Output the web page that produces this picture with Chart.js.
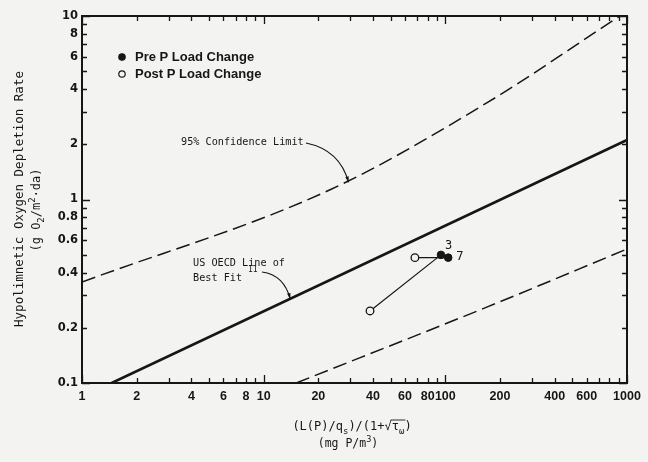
<!DOCTYPE html>
<html><head><meta charset="utf-8">
<script src="https://cdn.jsdelivr.net/npm/chart.js@4.4.1/dist/chart.umd.min.js"></script>
<style>html,body{margin:0;padding:0;background:#f3f3f1;} canvas{display:block;}</style>
</head><body>
<canvas id="c" width="648" height="462"></canvas>
<script>
// ---- tick values / labels ----
const xTickValues = [1,2,4,6,8,10,20,40,60,80,100,200,400,600,1000];
const xTickLabels = ['1','2','4','6','8','10','20','40','60','80','100','200','400','600','1000'];
const xMinorTicks = [3,5,7,9,30,50,70,90,300,500,700,800,900];
const yTickValues = [0.1,0.2,0.4,0.6,0.8,1,2,4,6,8,10];
const yTickLabels = ['0.1','0.2','0.4','0.6','0.8','1','2','4','6','8','10'];
const yMinorTicks = [0.3,0.5,0.7,0.9,3,5,7,9];

// ---- series ----
const fitX = [1.456, 1000];
const fitY = [0.1, 2.11];
const upperX = [1, 23.2, 169, 914];
const upperY = [0.355, 1.13, 3.36, 10];
const lowerX = [15.1, 169, 1000];
const lowerY = [0.1, 0.259, 0.537];
const preLakes = ['3', '7'];
const preX = [94.6, 103.7];
const preY = [0.499, 0.482];
const postX = [38.5, 68.0];
const postY = [0.247, 0.482];

const pts = (xs, ys) => xs.map((x, i) => ({x, y: ys[i]}));
const INK = '#161616';
const BG = '#f3f3f1';
const MONO = '"DejaVu Sans Mono", monospace';
const SANS = '"Liberation Sans", Arial, sans-serif';

const datasets = [
  {label:'Pre P Load Change', data: pts(preX, preY), showLine:false, pointRadius:3.8, pointBackgroundColor:INK, pointBorderColor:INK, pointBorderWidth:1, order:0},
  {label:'Post P Load Change', data: pts(postX, postY), showLine:false, pointRadius:3.8, pointBackgroundColor:BG, pointBorderColor:INK, pointBorderWidth:1.3, order:0},
];
preX.forEach((_, i) => {
  datasets.push({label:'link'+i, data:[{x:postX[i], y:postY[i]}, {x:preX[i], y:preY[i]}], showLine:true, pointRadius:0, borderColor:INK, borderWidth:1.2, order:1});
});
datasets.push({label:'US OECD Line of Best Fit', data: pts(fitX, fitY), showLine:true, pointRadius:0, borderColor:INK, borderWidth:2.6, order:2});
datasets.push({label:'95% Confidence Limit (upper)', data: pts(upperX, upperY), showLine:true, pointRadius:0, borderColor:INK, borderWidth:1.5, borderDash:[14,6], cubicInterpolationMode:'monotone', order:2});
datasets.push({label:'95% Confidence Limit (lower)', data: pts(lowerX, lowerY), showLine:true, pointRadius:0, borderColor:INK, borderWidth:1.5, borderDash:[14,6], cubicInterpolationMode:'monotone', order:2});

function richWidth(ctx, segs, size) {
  let w = 0;
  segs.forEach(([t, k]) => { ctx.font = (k === 'n' ? size : size * 0.75) + 'px ' + MONO; w += ctx.measureText(t).width; });
  return w;
}
function drawRich(ctx, segs, cx, cy, size) {
  const w = richWidth(ctx, segs, size);
  let x = cx - w / 2;
  const pos = [];
  ctx.textBaseline = 'middle';
  ctx.textAlign = 'left';
  segs.forEach(([t, k]) => {
    const s = k === 'n' ? size : size * 0.75;
    ctx.font = s + 'px ' + MONO;
    const dy = k === 'sub' ? size * 0.35 : k === 'sup' ? -size * 0.4 : 0;
    ctx.fillText(t, x, cy + dy);
    const tw = ctx.measureText(t).width;
    pos.push([x, x + tw]);
    x += tw;
  });
  return pos;
}

function arrow(ctx, x0, y0, cx, cy, x1, y1) {
  ctx.beginPath();
  ctx.moveTo(x0, y0);
  ctx.quadraticCurveTo(cx, cy, x1, y1);
  ctx.lineWidth = 1.2;
  ctx.stroke();
  const a = Math.atan2(y1 - cy, x1 - cx);
  ctx.beginPath();
  ctx.moveTo(x1, y1);
  ctx.lineTo(x1 - 6 * Math.cos(a - 0.3), y1 - 6 * Math.sin(a - 0.3));
  ctx.lineTo(x1 - 6 * Math.cos(a + 0.3), y1 - 6 * Math.sin(a + 0.3));
  ctx.closePath();
  ctx.fill();
}

const decorations = {
  id: 'decorations',
  beforeDraw(chart) {
    const ctx = chart.ctx;
    ctx.save();
    ctx.fillStyle = BG;
    ctx.fillRect(0, 0, chart.width, chart.height);
    ctx.restore();
  },
  afterDraw(chart) {
    const ctx = chart.ctx, a = chart.chartArea;
    const xs = chart.scales.x, ys = chart.scales.y;
    ctx.save();
    ctx.strokeStyle = INK; ctx.fillStyle = INK;
    ctx.lineWidth = 2;
    ctx.strokeRect(a.left, a.top, a.right - a.left, a.bottom - a.top);
    ctx.lineWidth = 1.3;
    const isDecade = v => Math.abs(Math.log10(v) - Math.round(Math.log10(v))) < 1e-9;
    xTickValues.concat(xMinorTicks).forEach(v => {
      const px = Math.round(xs.getPixelForValue(v)) + 0.5;
      const L = isDecade(v) ? 8 : 5;
      ctx.beginPath();
      ctx.moveTo(px, a.bottom); ctx.lineTo(px, a.bottom - L);
      ctx.moveTo(px, a.top); ctx.lineTo(px, a.top + L);
      ctx.stroke();
    });
    yTickValues.concat(yMinorTicks).forEach(v => {
      const py = Math.round(ys.getPixelForValue(v)) + 0.5;
      const L = isDecade(v) ? 8 : 5;
      ctx.beginPath();
      ctx.moveTo(a.left, py); ctx.lineTo(a.left + L, py);
      ctx.moveTo(a.right, py); ctx.lineTo(a.right - L, py);
      ctx.stroke();
    });

    // legend
    const leg = chart.data.datasets.slice(0, 2);
    ctx.textBaseline = 'middle'; ctx.textAlign = 'left';
    ctx.font = 'bold 13px ' + SANS;
    leg.forEach((d, i) => {
      const y = 57 + i * 17;
      ctx.beginPath();
      ctx.arc(122, y, 3.2, 0, Math.PI * 2);
      ctx.fillStyle = d.pointBackgroundColor; ctx.fill();
      ctx.lineWidth = 1.2; ctx.strokeStyle = INK; ctx.stroke();
      ctx.fillStyle = INK;
      ctx.fillText(d.label, 135, y);
    });

    // point labels
    ctx.font = '12px ' + MONO;
    const meta = chart.getDatasetMeta(0);
    meta.data.forEach((el, i) => {
      const off = i === 0 ? [4, -9] : [8, -1];
      ctx.fillText(preLakes[i], el.x + off[0], el.y + off[1]);
    });

    // annotations
    ctx.font = '10.2px ' + MONO;
    ctx.fillText('95% Confidence Limit', 181, 142);
    arrow(ctx, 306, 143, 340, 150, xs.getPixelForValue(29.3), ys.getPixelForValue(1.24));
    ctx.font = '10.2px ' + MONO;
    ctx.fillText('US OECD Line of', 193, 263);
    ctx.fillText('Best Fit', 193, 278);
    ctx.font = '8px ' + MONO;
    ctx.fillText('11', 248, 270);
    arrow(ctx, 262, 272, 284, 275, xs.getPixelForValue(14), ys.getPixelForValue(0.287));

    // axis titles
    const p1 = drawRich(ctx, [['(L(P)/q','n'],['s','sub'],[')/(1+','n'],['\u221A','n'],['\u03C4','n'],['\u03C9','sub'],[')','n']], 352, 427, 12);
    ctx.lineWidth = 0.9;
    ctx.beginPath();
    ctx.moveTo(p1[3][1] - 1, 420); ctx.lineTo(p1[5][1] + 1, 420);
    ctx.stroke();
    drawRich(ctx, [['(mg P/m','n'],['3','sup'],[')','n']], 348, 444, 11.5);

    ctx.save();
    ctx.translate(20, 199); ctx.rotate(-Math.PI / 2);
    drawRich(ctx, [['Hypolimnetic Oxygen Depletion Rate','n']], 0, 0, 12.5);
    ctx.restore();
    ctx.save();
    ctx.translate(37, 210); ctx.rotate(-Math.PI / 2);
    drawRich(ctx, [['(g O','n'],['2','sub'],['/m','n'],['2','sup'],['\u00B7da)','n']], 0, 0, 12);
    ctx.restore();
    ctx.restore();
  }
};

new Chart(document.getElementById('c'), {
  type: 'scatter',
  data: {datasets},
  options: {
    responsive: false, animation: false,
    layout: {padding: {left: 0, right: 21, top: 16, bottom: 0}},
    plugins: {legend: {display: false}, tooltip: {enabled: false}},
    scales: {
      x: {
        type: 'logarithmic', min: 1, max: 1000, position: 'bottom',
        afterBuildTicks(s) { s.ticks = xTickValues.map(v => ({value: v})); },
        afterFit(s) { s.height = 79; },
        grid: {display: false, drawTicks: false}, border: {display: false},
        ticks: {autoSkip: false, maxRotation: 0, minRotation: 0, padding: 6, color: INK,
          font: {family: SANS, size: 12.5, weight: 'bold'},
          callback: v => xTickLabels[xTickValues.indexOf(v)]}
      },
      y: {
        type: 'logarithmic', min: 0.1, max: 10, position: 'left',
        afterBuildTicks(s) { s.ticks = yTickValues.map(v => ({value: v})); },
        afterFit(s) { s.width = 82; },
        grid: {display: false, drawTicks: false}, border: {display: false},
        ticks: {autoSkip: false, padding: 4, color: INK,
          font: {family: '"DejaVu Sans", sans-serif', size: 11.5, weight: 'bold'},
          callback: v => yTickLabels[yTickValues.indexOf(v)]}
      }
    }
  },
  plugins: [decorations]
});
</script>
</body></html>
